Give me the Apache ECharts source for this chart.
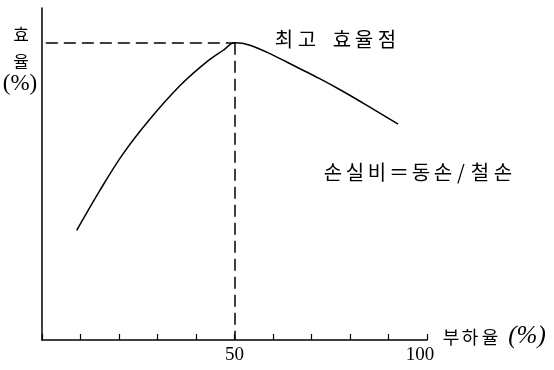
<!DOCTYPE html>
<html>
<head>
<meta charset="utf-8">
<script src="https://cdn.jsdelivr.net/npm/echarts@6/dist/echarts.min.js"></script>
<style>
  html, body { margin: 0; padding: 0; background: #fff; }
  #main { width: 554px; height: 370px; }
</style>
</head>
<body>
<div id="main"></div>
<script>
// load ratio (%) and efficiency (%)
var loadPct    = [9, 15, 21, 28, 36, 43, 47, 50, 54, 60, 66, 72, 78, 84.5, 92.5];
var efficiency = [33, 45, 56, 66.5, 76.8, 84, 87.2, 89.5, 88.8, 85.8, 82.3, 78.8, 75, 70.6, 65];
var xLabels = [50, 100];   // only these are printed under the axis

var peakIdx = efficiency.indexOf(Math.max.apply(null, efficiency));
var peakX = loadPct[peakIdx];
var peakY = efficiency[peakIdx];

var curve = loadPct.map(function (v, i) { return [v, efficiency[i]]; });

var chart = echarts.init(document.getElementById('main'));

var kfont = '"Noto Sans CJK KR", sans-serif';
var sfont = '"Liberation Serif", serif';
var dash = { type: [12, 6], color: '#000', width: 1.5 };

// the scanned lettering is spaced wide, so place glyph by glyph (x is the glyph centre)
function spaced(chars, centres, top, size, family) {
  return chars.map(function (c, i) {
    return { type: 'text', x: centres[i], y: top,
             style: { text: c, font: size + 'px ' + family, fill: '#000', align: 'center' } };
  });
}

var texts = []
  .concat(spaced(['효'], [21], 26, 17, kfont))
  .concat(spaced(['율'], [21], 53, 17, kfont))
  .concat([{ type: 'text', x: 20, y: 72, style: { text: '(%)', font: '23px ' + sfont, fill: '#000', align: 'center' } }])
  .concat(spaced(['최', '고', '효', '율', '점'], [284, 307, 342, 364, 387], 29, 20, kfont))
  .concat(spaced(['손', '실', '비', '＝', '동', '손', '/', '철', '손'],
                 [333, 355, 377, 399, 421, 443, 461, 480, 503], 162, 20, kfont))
  .concat(spaced(['부', '하', '율'], [451, 470, 490], 328, 18, kfont))
  .concat([{ type: 'text', x: 527, y: 324, style: { text: '(%)', font: 'italic 25px ' + sfont, fill: '#000', align: 'center' } }]);

chart.setOption({
  animation: false,
  backgroundColor: '#fff',
  grid: { left: 42, right: 127, top: 8, bottom: 30 },
  xAxis: {
    type: 'value',
    min: 0,
    max: 100,
    interval: 10,
    axisLine: { show: true, onZero: false, lineStyle: { color: '#000', width: 1.5 } },
    axisTick: { show: true, inside: true, length: 6, lineStyle: { color: '#000', width: 1.2 } },
    axisLabel: {
      margin: 6,
      fontFamily: sfont,
      fontSize: 19,
      color: '#000',
      formatter: function (v) {
        if (v === 100) return '{r|100}';
        return xLabels.indexOf(v) >= 0 ? String(v) : '';
      },
      rich: { r: { fontFamily: sfont, fontSize: 19, color: '#000', padding: [0, 14, 0, 0] } }
    },
    splitLine: { show: false }
  },
  yAxis: {
    type: 'value',
    min: 0,
    max: 100,
    axisLine: { show: true, onZero: false, lineStyle: { color: '#000', width: 1.5 } },
    axisTick: { show: false },
    axisLabel: { show: false },
    splitLine: { show: false }
  },
  graphic: texts,
  series: [{
    type: 'line',
    data: curve,
    smooth: 0.35,
    symbol: 'none',
    lineStyle: { color: '#000', width: 1.5 },
    markLine: {
      silent: true,
      symbol: 'none',
      label: { show: false },
      lineStyle: dash,
      data: [
        [{ coord: [1, peakY] }, { coord: [peakX, peakY] }],
        [{ coord: [peakX, peakY] }, { coord: [peakX, 0] }]
      ]
    }
  }]
});
</script>
</body>
</html>
